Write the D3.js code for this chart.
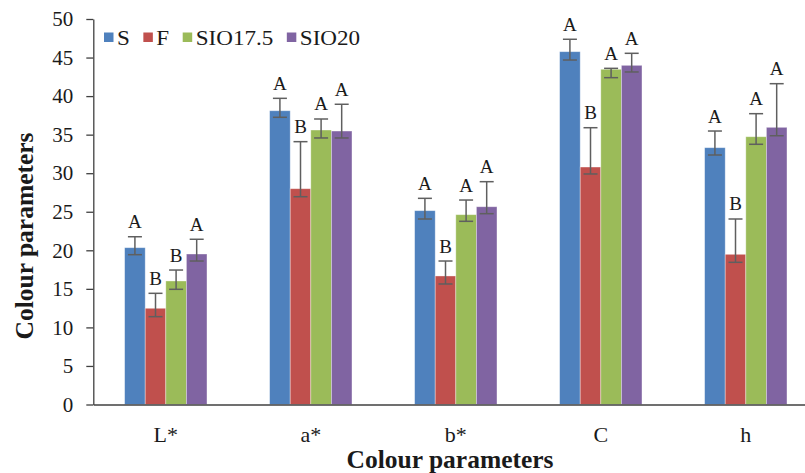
<!DOCTYPE html>
<html>
<head>
<meta charset="utf-8">
<script src="https://cdn.jsdelivr.net/npm/d3@7"></script>
<style>
  html, body { margin: 0; padding: 0; background: #fff; }
  svg { display: block; }
  text { font-family: "Liberation Serif", "Times New Roman", serif; fill: #1a1a1a; }
</style>
</head>
<body>
<svg id="chart" width="805" height="473"></svg>
<script>
// ---- data ----
const categories = ["L*", "a*", "b*", "C", "h"];
const seriesNames = ["S", "F", "SIO17.5", "SIO20"];
const seriesColors = ["#4F81BD", "#C0504D", "#9BBB59", "#8064A2"];

const meanS      = [20.34, 38.10, 25.14, 45.76, 33.31];
const meanF      = [12.48, 27.99, 16.67, 30.80, 19.48];
const meanSIO175 = [16.02, 35.60, 24.62, 43.48, 34.73];
const meanSIO20  = [19.52, 35.47, 25.65, 43.99, 35.95];

// error bar ends (upper / lower)
const upperS      = [21.76, 39.71, 26.74, 47.37, 35.47];
const upperF      = [14.42, 34.09, 18.61, 35.90, 24.06];
const upperSIO175 = [17.44, 37.03, 26.52, 43.60, 37.72];
const upperSIO20  = [21.43, 38.94, 28.90, 45.55, 41.61];

const lowerS      = [19.43, 37.25, 24.06, 44.68, 32.36];
const lowerF      = [11.39, 26.95, 15.63, 29.90, 18.44];
const lowerSIO175 = [14.94, 34.57, 23.76, 42.39, 33.75];
const lowerSIO20  = [18.61, 34.57, 24.75, 43.13, 34.86];

const lettersS      = ["A", "A", "A", "A", "A"];
const lettersF      = ["B", "B", "B", "B", "B"];
const lettersSIO175 = ["B", "A", "A", "A", "A"];
const lettersSIO20  = ["A", "A", "A", "A", "A"];

const yTicks = [0, 5, 10, 15, 20, 25, 30, 35, 40, 45, 50];
const xTitle = "Colour parameters";
const yTitle = "Colour parameters";

// ---- build table ----
const means = [meanS, meanF, meanSIO175, meanSIO20];
const uppers = [upperS, upperF, upperSIO175, upperSIO20];
const lowers = [lowerS, lowerF, lowerSIO175, lowerSIO20];
const letters = [lettersS, lettersF, lettersSIO175, lettersSIO20];

const rows = [];
categories.forEach((c, ci) => {
  seriesNames.forEach((s, si) => {
    rows.push({cat: c, ser: s, si, value: means[si][ci], hi: uppers[si][ci], lo: lowers[si][ci], letter: letters[si][ci]});
  });
});

// ---- layout ----
const svg = d3.select("#chart");
const plotLeft = 93.3, plotRight = 818.3, plotTop = 19, plotBottom = 404.5;

const x = d3.scaleBand().domain(categories).range([plotLeft, plotRight]).paddingInner(0.432).paddingOuter(0.216);
const xs = d3.scaleBand().domain(seriesNames).range([0, x.bandwidth()]).padding(0);
const y = d3.scaleLinear().domain([0, 50]).range([plotBottom, plotTop]);
const color = d3.scaleOrdinal().domain(seriesNames).range(seriesColors);

// bars
svg.append("g").selectAll("rect").data(rows).join("rect")
  .attr("x", d => x(d.cat) + xs(d.ser))
  .attr("y", d => y(d.value))
  .attr("width", xs.bandwidth())
  .attr("height", d => y(0) - y(d.value))
  .attr("fill", d => color(d.ser))
  .attr("stroke", "rgba(255,255,255,0.45)")
  .attr("stroke-width", 0.8);

// error bars
const eb = svg.append("g").attr("stroke", "#5f5f5f").attr("stroke-width", 1.5).attr("fill", "none");
const cx = d => x(d.cat) + xs(d.ser) + xs.bandwidth() / 2;
const capW = 7;
eb.selectAll("line.v").data(rows).join("line").attr("class", "v")
  .attr("x1", cx).attr("x2", cx).attr("y1", d => y(d.hi)).attr("y2", d => y(d.lo));
eb.selectAll("line.t").data(rows).join("line").attr("class", "t")
  .attr("x1", d => cx(d) - capW).attr("x2", d => cx(d) + capW).attr("y1", d => y(d.hi)).attr("y2", d => y(d.hi));
eb.selectAll("line.b").data(rows).join("line").attr("class", "b")
  .attr("x1", d => cx(d) - capW).attr("x2", d => cx(d) + capW).attr("y1", d => y(d.lo)).attr("y2", d => y(d.lo));

// significance letters
svg.append("g").selectAll("text").data(rows).join("text")
  .attr("x", cx)
  .attr("y", d => y(d.hi) - 8.5)
  .attr("text-anchor", "middle")
  .style("font-size", "19px")
  .text(d => d.letter);

// y axis
const yAxis = d3.axisLeft(y).tickValues(yTicks).tickSize(7).tickSizeOuter(0).tickPadding(13);
const gy = svg.append("g").attr("transform", `translate(${plotLeft},0)`).call(yAxis);
gy.attr("font-family", null);
gy.selectAll("path, line").attr("stroke", "#404040").attr("stroke-width", 1.3);
gy.selectAll("text").style("font-size", "21px").attr("fill", "#1a1a1a");

// x axis
const xAxis = d3.axisBottom(x).tickSize(0).tickSizeOuter(0).tickPadding(22);
const gx = svg.append("g").attr("transform", `translate(0,${plotBottom})`).call(xAxis);
gx.attr("font-family", null);
gx.select("path").attr("stroke", "#404040").attr("stroke-width", 1.5);
gx.selectAll("text").style("font-size", "22px").attr("fill", "#1a1a1a");

// titles
svg.append("text").attr("x", 450).attr("y", 468).attr("text-anchor", "middle")
  .style("font-size", "25.5px").style("font-weight", "bold").text(xTitle);
svg.append("text").attr("transform", "translate(33,236) rotate(-90)").attr("text-anchor", "middle")
  .style("font-size", "25.5px").style("font-weight", "bold").text(yTitle);

// legend
const lg = svg.append("g");
let lx = 104;
const stretch = 1.1;
seriesNames.forEach((s, i) => {
  lg.append("rect").attr("x", lx).attr("y", 32.5).attr("width", 9.5).attr("height", 9.5).attr("fill", seriesColors[i]);
  const t = lg.append("text").attr("transform", `translate(${lx + 13},45) scale(${stretch},1)`)
    .style("font-size", "21px").text(s);
  lx += 13 + t.node().getComputedTextLength() * stretch + 13.5;
});
</script>
</body>
</html>
